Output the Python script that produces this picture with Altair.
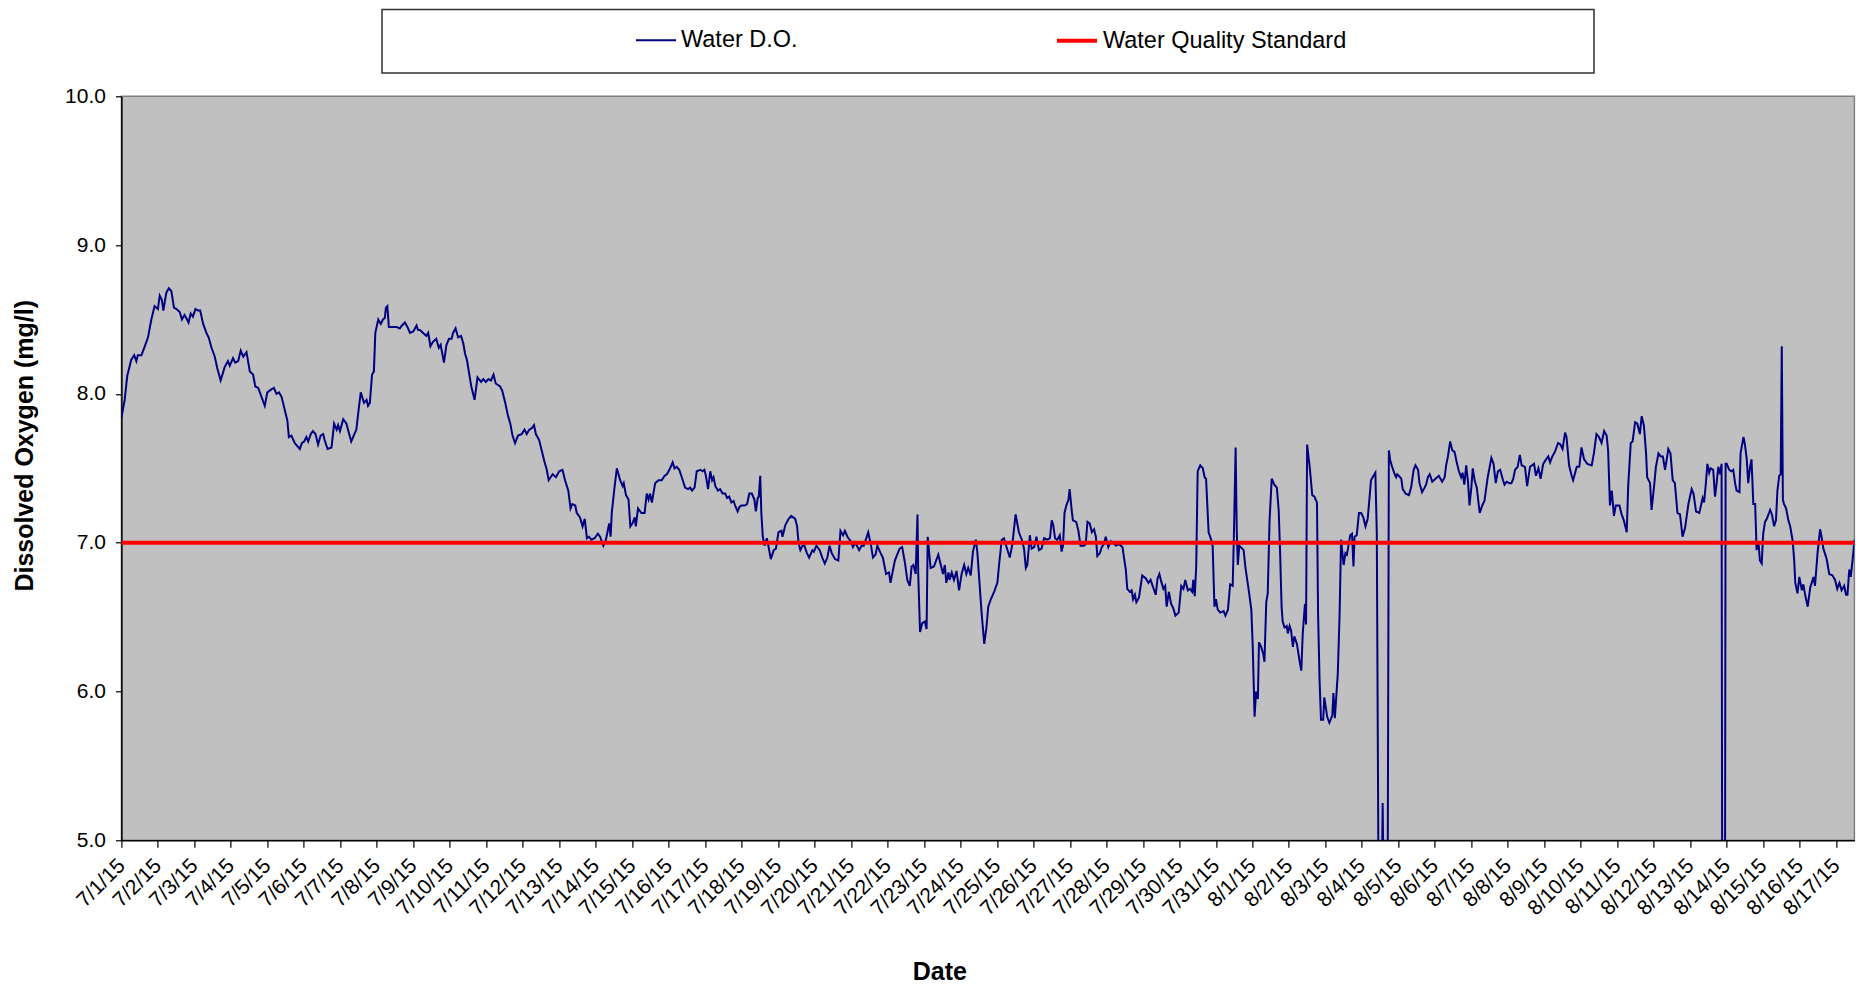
import altair as alt
import pandas as pd

# ---- Data: time offsets (days since 7/1/15 00:00) and dissolved oxygen (mg/l) ----
days_a = [0.00, 0.09, 0.16, 0.27, 0.35, 0.41, 0.45, 0.55, 0.64, 0.73, 0.82, 0.91, 1.00, 1.05, 1.11, 1.15,
          1.23, 1.30, 1.37, 1.44, 1.51, 1.60, 1.66, 1.73, 1.78, 1.84, 1.90, 1.96, 2.03, 2.10, 2.16, 2.24,
          2.33, 2.39, 2.47, 2.56, 2.63, 2.72, 2.83, 2.92, 2.97, 3.06, 3.12, 3.20, 3.27, 3.34, 3.43, 3.52,
          3.61, 3.67, 3.75, 3.84, 3.93, 4.00, 4.11, 4.18, 4.25, 4.32, 4.39, 4.48, 4.55, 4.59, 4.66, 4.75,
          4.89, 4.95, 5.01, 5.07, 5.12, 5.19, 5.25, 5.32, 5.39, 5.46, 5.53, 5.57, 5.65, 5.76, 5.83, 5.90,
          5.94, 5.99, 6.08, 6.17, 6.21, 6.30, 6.44, 6.51, 6.56, 6.65, 6.72, 6.76, 6.81, 6.87, 6.92, 6.96,
          7.04, 7.11, 7.17, 7.22, 7.25, 7.29, 7.33, 7.40, 7.54, 7.63, 7.69, 7.77, 7.84, 7.91, 8.00, 8.09,
          8.13, 8.18, 8.27, 8.36, 8.41, 8.47, 8.54, 8.63, 8.70, 8.75, 8.84, 8.91, 8.98, 9.05, 9.09, 9.16,
          9.23, 9.31, 9.37, 9.42]
do_a = [7.84, 7.96, 8.12, 8.23, 8.26, 8.22, 8.26, 8.26, 8.32, 8.38, 8.50, 8.59, 8.57, 8.66, 8.63, 8.56,
        8.68, 8.71, 8.69, 8.58, 8.57, 8.55, 8.50, 8.53, 8.51, 8.48, 8.54, 8.52, 8.57, 8.56, 8.56, 8.47,
        8.41, 8.38, 8.31, 8.25, 8.17, 8.09, 8.18, 8.22, 8.19, 8.24, 8.21, 8.22, 8.29, 8.25, 8.28, 8.15,
        8.13, 8.05, 8.04, 7.98, 7.92, 8.01, 8.03, 8.04, 8.00, 8.01, 7.98, 7.89, 7.82, 7.71, 7.72, 7.67,
        7.63, 7.67, 7.68, 7.71, 7.68, 7.73, 7.75, 7.73, 7.66, 7.72, 7.73, 7.69, 7.63, 7.64, 7.80, 7.76,
        7.79, 7.75, 7.83, 7.80, 7.76, 7.68, 7.76, 7.91, 8.01, 7.94, 7.96, 7.92, 7.94, 8.13, 8.15, 8.41,
        8.50, 8.47, 8.50, 8.51, 8.58, 8.59, 8.45, 8.45, 8.45, 8.44, 8.46, 8.48, 8.45, 8.41, 8.42, 8.46,
        8.43, 8.43, 8.41, 8.39, 8.41, 8.32, 8.35, 8.37, 8.31, 8.33, 8.21, 8.33, 8.37, 8.37, 8.41, 8.44,
        8.38, 8.39, 8.34, 8.27]

days_b = [9.47, 9.53, 9.59, 9.68, 9.76, 9.86, 9.92, 9.99, 10.06, 10.13, 10.20, 10.26, 10.38, 10.44, 10.52,
          10.59, 10.66, 10.72, 10.79, 10.87, 10.97, 11.05, 11.11, 11.18, 11.25, 11.31, 11.36, 11.45, 11.52,
          11.60, 11.66, 11.71, 11.82, 11.91, 12.00, 12.09, 12.16, 12.25, 12.31, 12.36, 12.44, 12.48, 12.57,
          12.64, 12.70, 12.76, 12.82, 12.88, 12.97, 13.06, 13.12, 13.21, 13.28, 13.33, 13.37, 13.41, 13.44,
          13.52, 13.58, 13.67, 13.74, 13.77, 13.83, 13.90, 13.95, 14.01, 14.07, 14.10, 14.16, 14.25, 14.34,
          14.40, 14.45, 14.49, 14.54, 14.63, 14.72, 14.81, 14.89, 14.95, 15.02, 15.11, 15.16, 15.22, 15.29,
          15.36, 15.45, 15.53, 15.59, 15.64, 15.71, 15.77, 15.87, 15.93, 15.98, 16.02, 16.08, 16.14, 16.19,
          16.23, 16.28, 16.35, 16.41, 16.48, 16.55, 16.60, 16.66, 16.72, 16.78, 16.82, 16.89, 16.94, 16.99,
          17.08, 17.15, 17.21, 17.28, 17.35, 17.39, 17.44, 17.47, 17.51, 17.54, 17.58, 17.63, 17.69, 17.74,
          17.80, 17.88, 17.94, 18.01, 18.09, 18.12, 18.20, 18.29, 18.36, 18.47, 18.52, 18.56, 18.61, 18.67,
          18.72, 18.79, 18.85, 18.94]
do_b = [8.23, 8.14, 8.05, 7.96, 8.11, 8.08, 8.10, 8.08, 8.10, 8.09, 8.13, 8.07, 8.05, 8.02, 7.94,
        7.86, 7.80, 7.72, 7.67, 7.72, 7.73, 7.76, 7.73, 7.76, 7.77, 7.79, 7.73, 7.69, 7.62,
        7.54, 7.49, 7.42, 7.46, 7.44, 7.48, 7.49, 7.42, 7.35, 7.23, 7.26, 7.25, 7.20, 7.17,
        7.11, 7.16, 7.03, 7.04, 7.02, 7.03, 7.06, 7.04, 6.98, 7.02, 7.08, 7.13, 7.04, 7.20,
        7.38, 7.50, 7.42, 7.38, 7.40, 7.32, 7.29, 7.11, 7.13, 7.17, 7.11, 7.23, 7.20, 7.20,
        7.33, 7.29, 7.33, 7.27, 7.40, 7.42, 7.42, 7.45, 7.46, 7.49, 7.54, 7.50, 7.51, 7.49,
        7.44, 7.37, 7.36, 7.37, 7.35, 7.37, 7.48, 7.49, 7.48, 7.49, 7.45, 7.36, 7.48, 7.42,
        7.44, 7.38, 7.35, 7.36, 7.33, 7.33, 7.30, 7.31, 7.27, 7.28, 7.25, 7.21, 7.24, 7.25,
        7.25, 7.26, 7.33, 7.33, 7.29, 7.21, 7.30, 7.31, 7.45, 7.20, 7.04, 6.98, 7.03, 6.97,
        6.89, 6.95, 6.96, 7.07, 7.08, 7.04, 7.12, 7.16, 7.18, 7.16, 7.11, 7.00, 6.95, 6.98,
        6.98, 6.93, 6.90, 6.95]

days_c = [18.98, 19.05, 19.14, 19.21, 19.28, 19.35, 19.41, 19.47, 19.56, 19.65, 19.71, 19.78, 19.83, 19.90,
          19.99, 20.05, 20.12, 20.22, 20.29, 20.35, 20.47, 20.54, 20.60, 20.67, 20.72, 20.81, 20.87, 20.96,
          21.04, 21.08, 21.20, 21.33, 21.40, 21.48, 21.54, 21.61, 21.66, 21.71, 21.77, 21.82, 21.84, 21.89,
          21.95, 22.02, 22.07, 22.10, 22.18, 22.27, 22.39, 22.45, 22.52, 22.57, 22.61, 22.67, 22.70, 22.76,
          22.82, 22.89, 22.96, 23.03, 23.10, 23.16, 23.21, 23.28, 23.34, 23.42, 23.46, 23.52, 23.58, 23.65,
          23.71, 23.76, 23.83, 23.92, 24.01, 24.06, 24.13, 24.19, 24.25, 24.35, 24.42, 24.51, 24.60, 24.68,
          24.74, 24.79, 24.83, 24.90, 24.95, 25.02, 25.08, 25.15, 25.22, 25.29, 25.38, 25.45, 25.50, 25.54,
          25.59, 25.65, 25.72, 25.77, 25.81, 25.85, 25.90, 25.96, 25.99, 26.05, 26.08, 26.17, 26.23, 26.29,
          26.38, 26.43, 26.48, 26.54, 26.60, 26.66, 26.71, 26.75, 26.82, 26.87, 26.93, 26.98, 27.05, 27.12,
          27.18, 27.26, 27.35, 27.44, 27.48, 27.53, 27.57, 27.64, 27.69, 27.73, 27.78, 27.82, 27.89, 27.98,
          28.08, 28.15, 28.21, 28.28, 28.35, 28.40, 28.45]
do_c = [6.94, 6.98, 6.95, 6.90, 6.86, 6.90, 6.98, 6.93, 6.89, 6.88, 7.08, 7.05, 7.08, 7.04,
        7.01, 6.97, 7.00, 6.95, 6.98, 6.98, 7.07, 6.99, 6.90, 6.92, 6.98, 6.93, 6.90, 6.79,
        6.80, 6.73, 6.88, 6.96, 6.97, 6.86, 6.75, 6.71, 6.84, 6.85, 6.79, 7.19, 6.79, 6.40,
        6.46, 6.47, 6.42, 7.04, 6.83, 6.84, 6.92, 6.86, 6.79, 6.85, 6.73, 6.80, 6.75, 6.80,
        6.75, 6.81, 6.68, 6.79, 6.85, 6.79, 6.83, 6.78, 6.94, 7.02, 6.94, 6.73, 6.52, 6.32,
        6.43, 6.57, 6.62, 6.67, 6.73, 6.86, 7.02, 7.03, 6.98, 6.90, 6.99, 7.19, 7.07, 7.02,
        6.96, 6.83, 6.85, 7.05, 6.96, 6.97, 7.04, 6.95, 6.96, 7.03, 7.02, 7.03, 7.15, 7.12,
        7.03, 7.02, 7.05, 6.94, 6.98, 7.20, 7.25, 7.29, 7.36, 7.21, 7.15, 7.14, 7.08, 6.98,
        6.98, 6.99, 7.14, 7.13, 7.07, 7.09, 7.04, 6.91, 6.93, 6.97, 6.99, 7.04, 6.97, 7.01,
        7.00, 6.98, 6.99, 6.97, 6.90, 6.82, 6.69, 6.67, 6.68, 6.62, 6.65, 6.60, 6.63, 6.78,
        6.76, 6.73, 6.75, 6.70, 6.65, 6.76, 6.79]

# values of 4.0 mark readings that fall below the axis minimum (off-scale)
days_d = [28.50, 28.56, 28.61, 28.65, 28.71, 28.77, 28.83, 28.89, 28.98, 29.05, 29.11, 29.16, 29.23, 29.29,
          29.35, 29.38, 29.42, 29.46, 29.50, 29.57, 29.64, 29.69, 29.73, 29.80, 29.87, 29.91, 29.96, 30.00,
          30.05, 30.12, 30.21, 30.26, 30.33, 30.39, 30.46, 30.49, 30.54, 30.57, 30.60, 30.64, 30.72, 30.76,
          30.81, 30.90, 30.97, 31.01, 31.06, 31.10, 31.15, 31.18, 31.24, 31.30, 31.33, 31.38, 31.42, 31.47,
          31.53, 31.60, 31.67, 31.72, 31.76, 31.80, 31.83, 31.88, 31.94, 31.97, 32.02, 32.06, 32.11, 32.15,
          32.22, 32.29, 32.34, 32.38, 32.44, 32.47, 32.50, 32.57, 32.64, 32.70, 32.77, 32.80, 32.84, 32.88,
          32.94, 32.97, 33.05, 33.11, 33.19, 33.22, 33.26, 33.34, 33.39, 33.43, 33.50, 33.55, 33.59, 33.64,
          33.68, 33.73, 33.77, 33.80, 33.86, 33.92, 33.98, 34.04, 34.10, 34.16, 34.21, 34.25, 34.32, 34.37,
          34.41, 34.47, 34.52, 34.57, 34.63, 34.70, 34.74, 34.78, 34.83, 34.90, 34.94, 34.97, 35.01, 35.08,
          35.12, 35.20, 35.29, 35.35, 35.42, 35.47, 35.54, 35.58, 35.65, 35.72, 35.76, 35.81, 35.86, 35.93,
          36.02, 36.11, 36.20, 36.27, 36.31, 36.36, 36.42, 36.48, 36.54, 36.60, 36.66, 36.72, 36.76, 36.81,
          36.86, 36.91, 36.95, 37.00, 37.04, 37.09, 37.15, 37.23, 37.30, 37.36, 37.45, 37.55, 37.61, 37.67,
          37.73, 37.79, 37.87, 37.91, 37.97]
do_d = [6.74, 6.69, 6.71, 6.57, 6.67, 6.59, 6.56, 6.51, 6.53, 6.71, 6.69, 6.75, 6.68, 6.69,
        6.67, 6.75, 6.64, 6.84, 7.48, 7.52, 7.50, 7.44, 7.43, 7.07, 7.02, 6.98, 6.57, 6.62,
        6.55, 6.53, 6.54, 6.51, 6.55, 6.72, 6.71, 7.02, 7.64, 7.09, 6.85, 6.98, 6.96, 6.95,
        6.83, 6.68, 6.55, 6.30, 5.83, 6.00, 5.95, 6.33, 6.30, 6.25, 6.20, 6.60, 6.66, 7.15,
        7.43, 7.39, 7.37, 7.22, 6.93, 6.57, 6.47, 6.43, 6.44, 6.39, 6.44, 6.41, 6.30, 6.37,
        6.32, 6.21, 6.14, 6.39, 6.59, 6.45, 7.66, 7.51, 7.32, 7.31, 7.27, 6.52, 6.08, 5.81,
        5.81, 5.96, 5.83, 5.79, 5.84, 5.99, 5.82, 6.12, 6.52, 7.02, 6.85, 6.93, 6.92, 6.99,
        7.05, 7.06, 6.84, 7.04, 7.05, 7.20, 7.20, 7.17, 7.11, 7.16, 7.30, 7.42, 7.45, 7.47,
        7.06, 4.00, 4.00, 5.25, 4.00, 4.00, 7.62, 7.55, 7.51, 7.46, 7.44, 7.46, 7.45, 7.43,
        7.36, 7.33, 7.32, 7.37, 7.49, 7.52, 7.49, 7.40, 7.34, 7.37, 7.39, 7.44, 7.46, 7.41,
        7.43, 7.45, 7.41, 7.44, 7.52, 7.58, 7.68, 7.62, 7.61, 7.54, 7.48, 7.44, 7.47, 7.39,
        7.52, 7.41, 7.25, 7.37, 7.50, 7.42, 7.37, 7.20, 7.25, 7.28, 7.44, 7.57, 7.53, 7.40,
        7.48, 7.49, 7.42, 7.39, 7.41]

days_e = [38.04, 38.10, 38.15, 38.20, 38.27, 38.33, 38.38, 38.47, 38.53, 38.61, 38.72, 38.77, 38.84, 38.90,
          38.97, 39.05, 39.11, 39.16, 39.22, 39.29, 39.38, 39.44, 39.50, 39.57, 39.61, 39.68, 39.75, 39.79,
          39.89, 39.96, 40.02, 40.09, 40.18, 40.30, 40.36, 40.43, 40.50, 40.57, 40.64, 40.71, 40.75, 40.80,
          40.85, 40.91, 40.96, 41.06, 41.12, 41.18, 41.26, 41.30, 41.37, 41.42, 41.49, 41.55, 41.62, 41.67,
          41.73, 41.79, 41.82, 41.90, 41.94, 42.01, 42.06, 42.13, 42.19, 42.25, 42.31, 42.35, 42.40, 42.46,
          42.52, 42.58, 42.65, 42.72, 42.79, 42.86, 42.95, 43.04, 43.09, 43.16, 43.25, 43.34, 43.38, 43.43,
          43.47, 43.52, 43.56, 43.63, 43.68, 43.72, 43.77, 43.82, 43.86, 43.88, 43.95, 43.97, 44.00, 44.07,
          44.13, 44.18, 44.23, 44.27, 44.35, 44.38, 44.46, 44.50, 44.55, 44.59, 44.64, 44.68, 44.73, 44.78,
          44.82, 44.87, 44.91, 44.96, 45.00, 45.05, 45.10, 45.19, 45.24, 45.30, 45.35, 45.39, 45.44, 45.48,
          45.51, 45.54, 45.57, 45.63, 45.69, 45.74, 45.81, 45.85, 45.88, 45.94, 45.99, 46.06, 46.10, 46.15,
          46.22, 46.29, 46.33, 46.38, 46.42, 46.49, 46.56, 46.60, 46.65, 46.74, 46.81, 46.90, 46.97, 47.03,
          47.09, 47.15, 47.22, 47.27, 47.31, 47.36, 47.40, 47.47, 47.50]
do_e = [7.40, 7.40, 7.43, 7.49, 7.51, 7.59, 7.52, 7.51, 7.38, 7.51, 7.53, 7.45, 7.50, 7.43,
        7.53, 7.56, 7.58, 7.54, 7.58, 7.61, 7.67, 7.66, 7.63, 7.74, 7.71, 7.52, 7.45, 7.42,
        7.51, 7.51, 7.64, 7.56, 7.53, 7.52, 7.60, 7.73, 7.71, 7.67, 7.75, 7.72, 7.62, 7.25,
        7.35, 7.18, 7.25, 7.25, 7.19, 7.15, 7.07, 7.38, 7.67, 7.68, 7.81, 7.80, 7.73, 7.85,
        7.79, 7.60, 7.44, 7.40, 7.22, 7.38, 7.51, 7.60, 7.58, 7.58, 7.49, 7.55, 7.63, 7.60,
        7.42, 7.40, 7.20, 7.19, 7.04, 7.10, 7.26, 7.36, 7.33, 7.21, 7.20, 7.30, 7.27, 7.40,
        7.53, 7.47, 7.50, 7.49, 7.31, 7.39, 7.51, 7.46, 7.53, 4.00, 4.00, 7.53, 7.53, 7.49,
        7.48, 7.49, 7.40, 7.35, 7.34, 7.60, 7.71, 7.66, 7.56, 7.40, 7.51, 7.56, 7.26, 7.26,
        6.95, 7.01, 6.88, 6.86, 7.06, 7.14, 7.16, 7.22, 7.19, 7.11, 7.15, 7.35, 7.45, 7.46,
        8.32, 7.29, 7.26, 7.23, 7.15, 7.11, 7.01, 6.88, 6.73, 6.66, 6.77, 6.68, 6.72, 6.65,
        6.57, 6.70, 6.73, 6.77, 6.71, 6.93, 7.09, 7.04, 6.96, 6.89, 6.79, 6.78, 6.75, 6.69,
        6.73, 6.68, 6.71, 6.65, 6.65, 6.82, 6.77, 6.93, 7.02]

standard_value = 7.0
series_names = ["Water D.O.", "Water Quality Standard"]
series_colors = ["#000080", "#FF0000"]
series_widths = [2, 4]

# ---- Build table ----
t0 = pd.Timestamp("2015-07-01")
all_days = days_a + days_b + days_c + days_d + days_e
all_do = do_a + do_b + do_c + do_d + do_e
times = [t0 + pd.Timedelta(minutes=round(d * 1440)) for d in all_days]
df_do = pd.DataFrame({"t": times, "v": all_do, "series": series_names[0]})
df_std = pd.DataFrame({"t": [t0, t0 + pd.Timedelta(hours=47 * 24 + 12)],
                       "v": [standard_value, standard_value], "series": series_names[1]})
df = pd.concat([df_do, df_std], ignore_index=True)

tick_days = pd.date_range("2015-07-01", "2015-08-17", freq="D")
tick_values = [alt.DateTime(year=d.year, month=d.month, date=d.day) for d in tick_days]

FONT = "Liberation Sans"

legend = alt.Legend(
    title=None, orient="none", direction="horizontal",
    legendX=513.6, legendY=-77.8, padding=0,
    symbolType="stroke", symbolSize=1600, labelFontSize=23.5, labelFont=FONT,
    labelColor="black", labelOffset=4, columnPadding=251, labelLimit=500,
)

line = alt.Chart(df).mark_line(clip=True).encode(
    x=alt.X("t:T",
            scale=alt.Scale(domain=[alt.DateTime(year=2015, month=7, date=1),
                                    alt.DateTime(year=2015, month=8, date=17, hours=12)]),
            axis=alt.Axis(values=tick_values, format="%-m/%-d/%y", labelAngle=-45,
                          labelAlign="right", labelBaseline="middle", labelPadding=15,
                          labelOverlap=False, labelFontSize=21, labelFont=FONT,
                          title="Date", titleFontSize=25, titleFont=FONT, titleFontWeight="bold",
                          titleX=818, titleY=131, titleBaseline="middle", titleAlign="center",
                          grid=False, tickSize=7)),
    y=alt.Y("v:Q",
            scale=alt.Scale(domain=[5, 10], nice=False, zero=False),
            axis=alt.Axis(values=[5, 6, 7, 8, 9, 10], format=".1f", labelFontSize=21,
                          labelFont=FONT, labelPadding=10,
                          title="Dissolved Oxygen (mg/l)", titleFontSize=25, titleFont=FONT,
                          titleFontWeight="bold", titleX=-97, titleY=349, titleAngle=270,
                          titleAlign="center", titleBaseline="middle",
                          grid=False, tickSize=6)),
    color=alt.Color("series:N", scale=alt.Scale(domain=series_names, range=series_colors),
                    legend=legend),
    strokeWidth=alt.StrokeWidth("series:N", scale=alt.Scale(domain=series_names, range=series_widths),
                                legend=legend),
)

legend_box = alt.Chart(pd.DataFrame({"k": [0]})).mark_rect(
    fill="white", stroke="#303030", strokeWidth=1.5
).encode(
    x=alt.value(260.6), x2=alt.value(1472.6), y=alt.value(-86.8), y2=alt.value(-23.3)
)

chart = alt.layer(legend_box, line).properties(
    width=1733, height=744,
    autosize=alt.AutoSizeParams(type="none"),
    padding={"left": 113.4, "top": 88.3, "right": 5, "bottom": 146},
).configure_view(
    fill="#C0C0C0", stroke="#808080", strokeWidth=1.5
).configure_axis(
    domainColor="black", domainWidth=1.5, tickColor="black", tickWidth=1.2,
    labelColor="black", titleColor="black",
)

chart.save("out.html", embed_options={"renderer": "svg", "actions": False})
